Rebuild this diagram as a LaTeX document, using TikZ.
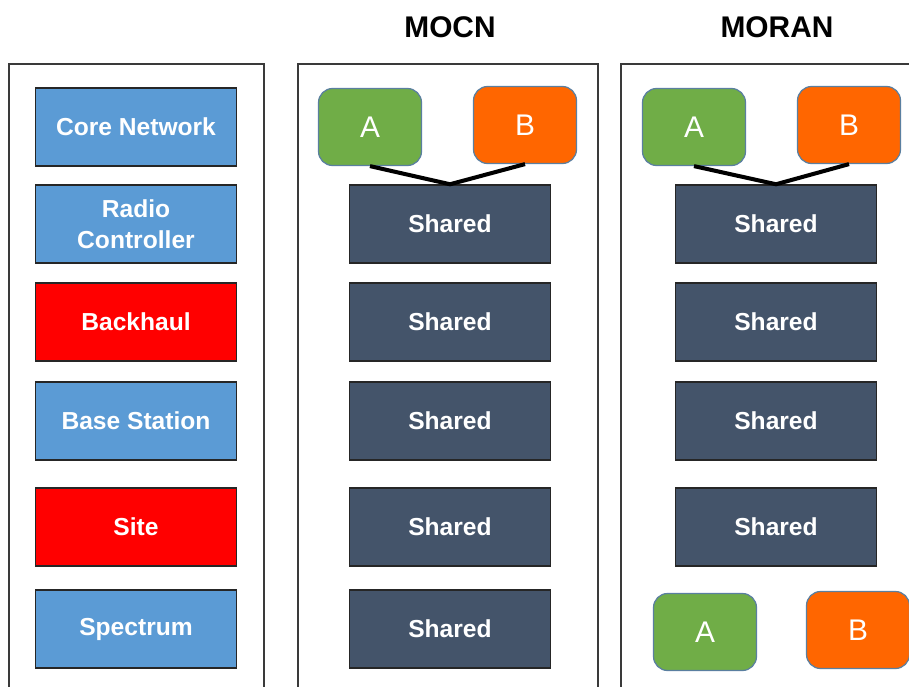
\documentclass[tikz,border=0pt]{standalone}
\usepackage{fontspec}
\setmainfont{Liberation Sans}
\usepackage{tikz}
\usetikzlibrary{positioning}
\definecolor{layerblue}{HTML}{5B9BD5}
\definecolor{layerred}{HTML}{FF0000}
\definecolor{shareddark}{HTML}{44546A}
\definecolor{opgreen}{HTML}{70AD47}
\definecolor{oporange}{HTML}{FF6600}
\definecolor{opedge}{HTML}{5A7FA0}
\definecolor{frameedge}{HTML}{3A3A3A}
\tikzset{
  layer/.style={rectangle, draw=black!85, line width=0.85pt, text=white,
    minimum width=4.02cm, minimum height=1.56cm, align=center,
    font=\fontsize{14}{17.5}\selectfont\bfseries},
  shared/.style={layer, fill=shareddark},
  operator/.style={rectangle, rounded corners=8pt, draw=opedge, line width=0.7pt,
    text=white, minimum width=2.06cm, minimum height=1.54cm,
    font=\fontsize{17}{20}\selectfont},
  panel/.style={draw=frameedge, line width=0.9pt},
  link/.style={line width=2.3pt, black}
}

\begin{document}
\begin{tikzpicture}[x=0.02cm, y=-0.02cm]
    \clip (0,0) rectangle (909,686);
    \fill[white] (0,0) rectangle (909,686);

      % Panels
      \draw[panel] (9,720) -- (9,64) -- (264,64) -- (264,720);
      \draw[panel] (298,720) -- (298,64) -- (598,64) -- (598,720);
      \draw[panel] (621,720) -- (621,64) -- (940,64);

      % Titles
      \node[font=\fontsize{17}{20}\selectfont\bfseries] (mocn) at (450,27) {MOCN};
      \node[font=\fontsize{17}{20}\selectfont\bfseries] (moran) at (777,27) {MORAN};

      % Layers
      \node[layer, fill=layerblue] (core) at (136,127) {Core Network};
      \node[layer, fill=layerblue] (rnc) at (136,224) {Radio\\Controller};
      \node[layer, fill=layerred] (backhaul) at (136,322) {Backhaul};
      \node[layer, fill=layerblue] (bts) at (136,421) {Base Station};
      \node[layer, fill=layerred] (site) at (136,527) {Site};
      \node[layer, fill=layerblue] (spectrum) at (136,629) {Spectrum};

      % MOCN
      \node[operator, fill=opgreen] (mocnA) at (370,127) {A};
      \node[operator, fill=oporange] (mocnB) at (525,125) {B};
      \node[shared] (mocnS1) at (450,224) {Shared};
      \node[shared] (mocnS2) at (450,322) {Shared};
      \node[shared] (mocnS3) at (450,421) {Shared};
      \node[shared] (mocnS4) at (450,527) {Shared};
      \node[shared] (mocnS5) at (450,629) {Shared};

      % MORAN
      \node[operator, fill=opgreen] (moranA) at (694,127) {A};
      \node[operator, fill=oporange] (moranB) at (849,125) {B};
      \node[shared] (moranS1) at (776,224) {Shared};
      \node[shared] (moranS2) at (776,322) {Shared};
      \node[shared] (moranS3) at (776,421) {Shared};
      \node[shared] (moranS4) at (776,527) {Shared};
      \node[operator, fill=opgreen] (moranA2) at (705,632) {A};
      \node[operator, fill=oporange] (moranB2) at (858,630) {B};

      %Edges
      \draw[link] (mocnA.south) -- (mocnS1.north) -- (mocnB.south);
      \draw[link] (moranA.south) -- (moranS1.north) -- (moranB.south);

  \end{tikzpicture}
\end{document}
